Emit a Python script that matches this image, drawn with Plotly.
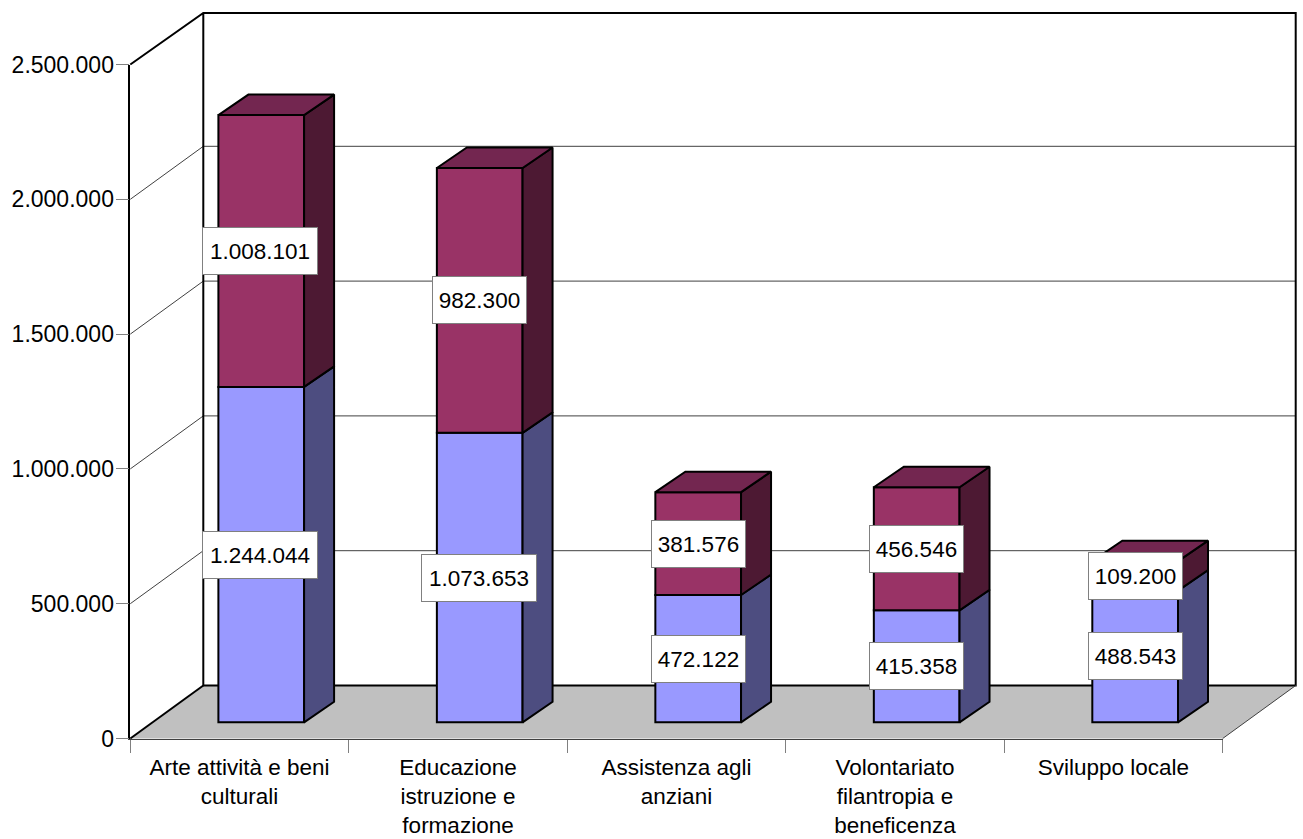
import plotly.graph_objects as go

categories = ["Arte attività e beni<br>culturali", "Educazione<br>istruzione e<br>formazione",
              "Assistenza agli<br>anziani", "Volontariato<br>filantropia e<br>beneficenza", "Sviluppo locale"]
lower_values = [1244044, 1073653, 472122, 415358, 488543]
upper_values = [1008101, 982300, 381576, 456546, 109200]
y_ticks = [0, 500000, 1000000, 1500000, 2000000, 2500000]
y_tick_labels = ["0", "500.000", "1.000.000", "1.500.000", "2.000.000", "2.500.000"]

W, H = 1303, 839
X0, X1 = 130.3, 1222.7      # front axis pixels
Y0, Y1 = 738.5, 64.5        # 0 and 2.5M pixels
WALL_DX, WALL_DY = 73.0, 53.0
PX_PER_CAT = (X1 - X0) / 5
PX_PER_VAL = (Y0 - Y1) / 2500000

BAR_W = 85.7 / PX_PER_CAT
BAR_SHIFT = 21.7 / PX_PER_CAT
BAR_LIFT = 16.2 / PX_PER_VAL
DEPTH_X = 30.0 / PX_PER_CAT
DEPTH_Y = 20.5 / PX_PER_VAL

BLUE, BLUE_SIDE = "#9999FF", "#4D4D80"
RED, RED_SIDE, RED_TOP = "#993366", "#4D1933", "#732650"
FLOOR = "#C0C0C0"
FONT = "Liberation Sans"

def px(x): return x / W
def py(y): return 1 - y / H

def path(points, close=False):
    s = "M " + " L ".join(f"{px(a)},{py(b)}" for a, b in points)
    return s + (" Z" if close else "")

shapes = []
shapes.append(dict(type="path", xref="paper", yref="paper", layer="below",
                   path=path([(X0, Y0), (X0 + WALL_DX, Y0 - WALL_DY), (X1 + WALL_DX, Y0 - WALL_DY), (X1, Y0)], True),
                   fillcolor=FLOOR, line=dict(width=0)))
for v in y_ticks[1:-1]:
    y = Y0 - v * PX_PER_VAL
    shapes.append(dict(type="path", xref="paper", yref="paper", layer="below",
                       path=path([(X0, y), (X0 + WALL_DX, y - WALL_DY), (X1 + WALL_DX, y - WALL_DY)]),
                       line=dict(color="#404040", width=1)))
shapes.append(dict(type="path", xref="paper", yref="paper", layer="below",
                   path=path([(X0, Y1), (X0 + WALL_DX, Y1 - 51.5), (X1 + WALL_DX, Y1 - 51.5),
                              (X1 + WALL_DX, Y0 - WALL_DY), (X0 + WALL_DX, Y0 - WALL_DY), (X0 + WALL_DX, Y1 - 51.5)]),
                   line=dict(color="black", width=2)))
shapes.append(dict(type="path", xref="paper", yref="paper", layer="below",
                   path=path([(X0, Y0), (X0 + WALL_DX, Y0 - WALL_DY)]),
                   line=dict(color="black", width=2)))
shapes.append(dict(type="path", xref="paper", yref="paper", layer="below",
                   path=path([(X1 + WALL_DX, Y0 - WALL_DY), (X1, Y0)]),
                   line=dict(color="#404040", width=1)))

fig = go.Figure()
idx = list(range(len(categories)))
lower_base = [BAR_LIFT] * len(idx)
upper_base = [b + v for b, v in zip(lower_base, lower_values)]
tops = [b + v for b, v in zip(upper_base, upper_values)]
centers = [i + BAR_SHIFT for i in idx]

fig.add_trace(go.Bar(x=idx, y=lower_values, base=lower_base, width=BAR_W, offset=BAR_SHIFT - BAR_W / 2,
                     marker=dict(color=BLUE, line=dict(color="black", width=2)), cliponaxis=False))
fig.add_trace(go.Bar(x=idx, y=upper_values, base=upper_base, width=BAR_W, offset=BAR_SHIFT - BAR_W / 2,
                     marker=dict(color=RED, line=dict(color="black", width=2)), cliponaxis=False))

def side_faces(bottoms, heights):
    xs, ys = [], []
    for c, b, h in zip(centers, bottoms, heights):
        r = c + BAR_W / 2
        xs += [r, r + DEPTH_X, r + DEPTH_X, r, r, None]
        ys += [b, b + DEPTH_Y, b + h + DEPTH_Y, b + h, b, None]
    return xs, ys

def top_faces(levels):
    xs, ys = [], []
    for c, t in zip(centers, levels):
        l, r = c - BAR_W / 2, c + BAR_W / 2
        xs += [l, r, r + DEPTH_X, l + DEPTH_X, l, None]
        ys += [t, t, t + DEPTH_Y, t + DEPTH_Y, t, None]
    return xs, ys

for (xs, ys), color in [(side_faces(lower_base, lower_values), BLUE_SIDE),
                        (side_faces(upper_base, upper_values), RED_SIDE),
                        (top_faces(tops), RED_TOP)]:
    fig.add_trace(go.Scatter(x=xs, y=ys, mode="lines", fill="toself", fillcolor=color,
                             line=dict(color="black", width=2), cliponaxis=False))

annotations = []
for series, bases in [(lower_values, lower_base), (upper_values, upper_base)]:
    for c, v, b in zip(centers, series, bases):
        txt = f"{v:,}".replace(",", ".")
        wide = v >= 1000000
        annotations.append(dict(x=c - (1.2 if wide else 0.0) / PX_PER_CAT, y=b + v / 2, xref="x", yref="y", text=txt,
                                showarrow=False, bgcolor="white", bordercolor="#808080", borderwidth=1,
                                width=112 if wide else 91, height=44,
                                font=dict(family=FONT, size=22.5, color="black")))

fig.update_layout(
    width=W, height=H, margin=dict(l=0, r=0, t=0, b=0, pad=0), autosize=False,
    paper_bgcolor="white", plot_bgcolor="rgba(0,0,0,0)", barmode="overlay", showlegend=False,
    hovermode=False, font=dict(family=FONT, size=23, color="black"),
    shapes=shapes, annotations=annotations,
    xaxis=dict(domain=[X0 / W, X1 / W], range=[-0.5, 4.5], tickmode="array", tickvals=idx, ticktext=categories,
               automargin=False, ticks="", showgrid=False, zeroline=False, showline=True, linecolor="#404040", linewidth=1,
               ticklabelstandoff=8,
               minor=dict(tickmode="array", tickvals=[i - 0.5 for i in range(6)], ticks="outside", ticklen=13,
                          tickcolor="#808080", tickwidth=1, showgrid=False),
               tickfont=dict(family=FONT, size=22.5, color="black")),
    yaxis=dict(domain=[1 - Y0 / H, 1 - Y1 / H], range=[0, 2500000], tickmode="array", tickvals=y_ticks,
               ticktext=y_tick_labels, ticks="outside", ticklen=13, tickcolor="#808080", tickwidth=1,
               ticklabelstandoff=-3,
               automargin=False, showgrid=False, zeroline=False, showline=True, linecolor="black", linewidth=1.5,
               tickfont=dict(family=FONT, size=23, color="black")),
)

fig.write_html("out.html", config=dict(displayModeBar=False),
               post_script="document.body.style.margin='0';document.body.style.overflow='hidden';window.dispatchEvent(new Event('resize'));")
